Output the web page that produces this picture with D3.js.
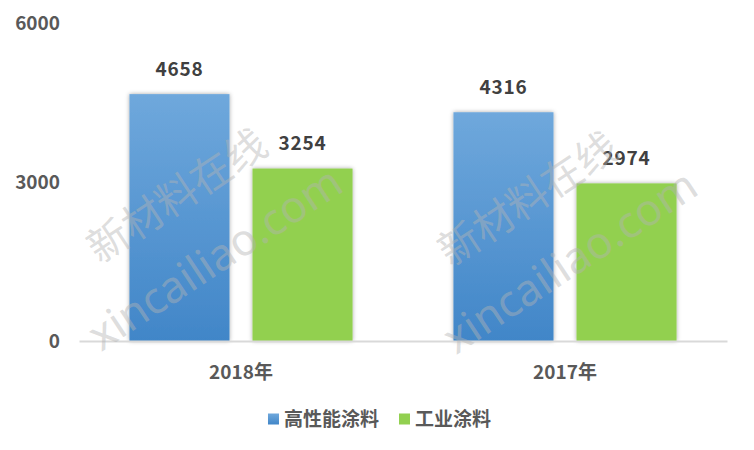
<!DOCTYPE html>
<html>
<head>
<meta charset="utf-8">
<script src="https://cdn.jsdelivr.net/npm/d3@7"></script>
<style>
  html, body { margin: 0; padding: 0; background: #fff; }
  svg { display: block; }
</style>
</head>
<body>
<svg id="chart" width="754" height="450"></svg>
<script>
// ---- data ----
const categories = ["2018年", "2017年"];
const seriesNames = ["高性能涂料", "工业涂料"];
const highPerfValues = [4658, 4316];
const industrialValues = [3254, 2974];
const yTicks = [0, 3000, 6000];
const watermarkLines = ["新材料在线", "xincailiao.com"];

const seriesValues = [highPerfValues, industrialValues];
const rows = categories.map((c, i) => ({
  category: c,
  values: seriesNames.map((s, j) => ({ series: s, value: seriesValues[j][i] }))
}));

const svg = d3.select("#chart");
const plot = { left: 79, right: 727, top: 23, bottom: 341 };
const FONT = "'Noto Sans CJK SC', 'Noto Sans', sans-serif";

// defs: gradient + shadow
const defs = svg.append("defs");
const grad = defs.append("linearGradient").attr("id", "blueGrad")
  .attr("x1", 0).attr("y1", 0).attr("x2", 0).attr("y2", 1);
grad.append("stop").attr("offset", "0%").attr("stop-color", "#6fa8dc");
grad.append("stop").attr("offset", "100%").attr("stop-color", "#4186c8");
const shadow = defs.append("filter").attr("id", "shadow")
  .attr("x", "-20%").attr("y", "-10%").attr("width", "140%").attr("height", "120%");
shadow.append("feDropShadow").attr("dx", 0).attr("dy", 0)
  .attr("stdDeviation", 2.2).attr("flood-color", "#000").attr("flood-opacity", 0.35);

const fills = { "高性能涂料": "url(#blueGrad)", "工业涂料": "#92d050" };

// scales
const y = d3.scaleLinear().domain([0, 6000]).range([plot.bottom, plot.top]);
const x0 = d3.scaleBand().domain(categories).range([plot.left, plot.right]).padding(0);
const x1 = d3.scaleBand().domain(seriesNames).range([0, x0.bandwidth()])
  .paddingInner(0.187).paddingOuter(0.41);

// y axis labels
const yAxis = d3.axisLeft(y).tickValues(yTicks).tickFormat(d3.format("d"))
  .tickSize(0).tickPadding(0);
const yg = svg.append("g").attr("transform", `translate(60,0)`).call(yAxis);
yg.select(".domain").remove();
yg.selectAll("text")
  .attr("font-family", FONT).attr("font-size", 19).attr("font-weight", "bold")
  .attr("fill", "#595959");

// bars
const groups = svg.append("g").selectAll("g").data(rows).join("g")
  .attr("transform", d => `translate(${x0(d.category)},0)`);

groups.selectAll("rect").data(d => d.values).join("rect")
  .attr("x", d => x1(d.series))
  .attr("y", d => y(d.value))
  .attr("width", x1.bandwidth())
  .attr("height", d => y(0) - y(d.value))
  .attr("fill", d => fills[d.series])
  .attr("filter", "url(#shadow)");

groups.selectAll("text.val").data(d => d.values).join("text")
  .attr("class", "val")
  .attr("x", d => x1(d.series) + x1.bandwidth() / 2)
  .attr("y", d => y(d.value) - 18.5)
  .attr("text-anchor", "middle")
  .attr("font-family", FONT).attr("font-size", 19).attr("font-weight", "bold")
  .attr("fill", "#404040")
  .attr("letter-spacing", 0.8)
  .text(d => d.value);

// baseline / x axis
const xAxis = d3.axisBottom(x0).tickSize(0).tickPadding(0);
const xg = svg.append("g").attr("transform", `translate(0,${y(0)})`).call(xAxis);
xg.select(".domain").attr("stroke", "#d9d9d9").attr("stroke-width", 2);
xg.selectAll("text")
  .attr("dy", 0).attr("y", 38)
  .attr("font-family", FONT).attr("font-size", 19).attr("font-weight", "bold")
  .attr("fill", "#595959");

// watermark
const wm = svg.append("g").attr("pointer-events", "none");
const wmPositions = [
  [{ x: 175, y: 193 }, { x: 214, y: 257 }],
  [{ x: 526, y: 196 }, { x: 569, y: 260 }]
];
wmPositions.forEach(pair => {
  pair.forEach((p, i) => {
    wm.append("text")
      .attr("transform", `translate(${p.x},${p.y}) rotate(-33.5)`)
      .attr("text-anchor", "middle").attr("dominant-baseline", "central")
      .attr("font-family", i === 0 ? FONT : "'Noto Sans', 'Open Sans', sans-serif")
      .attr("font-weight", 400)
      .attr("font-size", i === 0 ? 41 : 44)
      .attr("fill", "#b4b4b4").attr("fill-opacity", 0.45)
      .text(watermarkLines[i]);
  });
});

// legend
const legend = svg.append("g");
let cx = 0;
seriesNames.forEach((s) => {
  const g = legend.append("g");
  g.append("rect").attr("x", 0).attr("y", -5.5).attr("width", 11).attr("height", 11)
    .attr("fill", fills[s]);
  const t = g.append("text").attr("x", 16).attr("y", 0).attr("dy", "0.36em")
    .attr("font-family", FONT).attr("font-size", 19).attr("font-weight", "bold")
    .attr("fill", "#595959").text(s);
  const w = 16 + t.node().getComputedTextLength();
  g.attr("transform", `translate(${cx},0)`);
  cx += w + 20;
});
const totalW = cx - 20;
legend.attr("transform", `translate(${379.5 - totalW / 2},419)`);
</script>
</body>
</html>
